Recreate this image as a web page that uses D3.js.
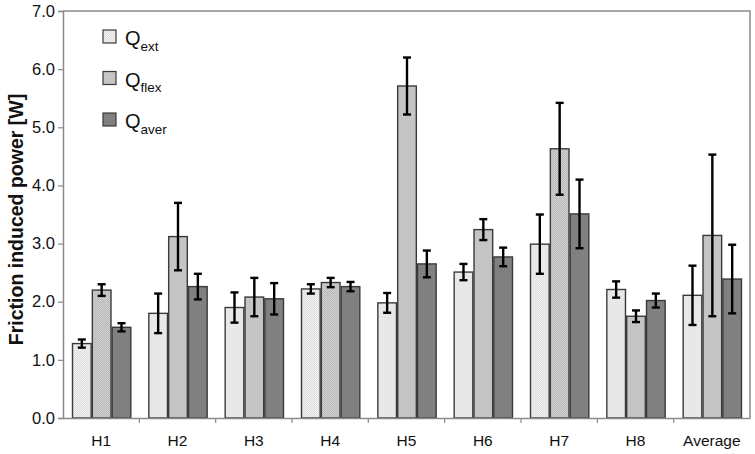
<!DOCTYPE html>
<html>
  <head>
    <meta charset="utf-8" />
    <title>Friction induced power</title>
    <style>
      body {
        margin: 0;
        background: #fff;
      }
      svg {
        display: block;
        font-family: "Liberation Sans", Arial, sans-serif;
      }
    </style>
  </head>
  <body>
    <svg id="chart"></svg>
    <script src="https://cdn.jsdelivr.net/npm/d3@7"></script>
    <script>
      const categories = ["H1", "H2", "H3", "H4", "H5", "H6", "H7", "H8", "Average"];
      const seriesKeys = ["ext", "flex", "aver"];
      const qExt = [1.28, 1.80, 1.90, 2.22, 1.98, 2.51, 2.99, 2.21, 2.11];
      const qExtErr = [0.07, 0.34, 0.26, 0.08, 0.17, 0.14, 0.51, 0.14, 0.51];
      const qFlex = [2.20, 3.12, 2.08, 2.33, 5.71, 3.24, 4.63, 1.75, 3.14];
      const qFlexErr = [0.10, 0.58, 0.33, 0.08, 0.49, 0.18, 0.79, 0.10, 1.39];
      const qAver = [1.56, 2.26, 2.05, 2.26, 2.65, 2.77, 3.51, 2.02, 2.39];
      const qAverErr = [0.07, 0.22, 0.27, 0.08, 0.23, 0.16, 0.59, 0.12, 0.59];
      const yTicks = [0, 1, 2, 3, 4, 5, 6, 7];

      const width = 755;
      const height = 454;
      const margin = { top: 11, right: 5, bottom: 36, left: 63 };
      const font = "Liberation Sans, Arial, sans-serif";

      const svg = d3.select("#chart").attr("width", width).attr("height", height);

      // checker patterns for the bar fills
      const defs = svg.append("defs");
      function checker(id, a, b) {
        const p = defs
          .append("pattern")
          .attr("id", id)
          .attr("width", 2)
          .attr("height", 2)
          .attr("patternUnits", "userSpaceOnUse");
        p.append("rect").attr("width", 2).attr("height", 2).attr("fill", a);
        p.append("rect").attr("width", 1).attr("height", 1).attr("fill", b);
        p.append("rect").attr("x", 1).attr("y", 1).attr("width", 1).attr("height", 1).attr("fill", b);
      }
      checker("pExt", "#f0f0f0", "#e0e0e0");
      checker("pFlex", "#cfcfcf", "#bababa");
      checker("pAver", "#858585", "#7b7b7b");
      const fills = { ext: "url(#pExt)", flex: "url(#pFlex)", aver: "url(#pAver)" };
      const subs = { ext: "ext", flex: "flex", aver: "aver" };

      const rows = categories.map((c, i) => ({
        cat: c,
        ext: { v: qExt[i], e: qExtErr[i] },
        flex: { v: qFlex[i], e: qFlexErr[i] },
        aver: { v: qAver[i], e: qAverErr[i] },
      }));

      const x = d3
        .scaleBand()
        .domain(categories)
        .range([margin.left, width - margin.right])
        .paddingInner(0)
        .paddingOuter(0);

      const xi = d3
        .scaleBand()
        .domain(seriesKeys)
        .range([9.5, x.bandwidth() - 8.5])
        .paddingInner(0.06);

      const y = d3
        .scaleLinear()
        .domain([0, 7])
        .range([height - margin.bottom, margin.top]);

      // frame (top and right)
      svg
        .append("path")
        .attr("d", `M${margin.left},${y(7)}H${width - margin.right}V${y(0)}`)
        .attr("fill", "none")
        .attr("stroke", "#8a8a8a")
        .attr("stroke-width", 1.5);

      // bars
      const groups = svg
        .append("g")
        .selectAll("g")
        .data(rows)
        .join("g")
        .attr("transform", (d) => `translate(${x(d.cat)},0)`);

      groups
        .selectAll("rect")
        .data((d) => seriesKeys.map((k) => ({ k, v: d[k].v, e: d[k].e })))
        .join("rect")
        .attr("x", (d) => xi(d.k))
        .attr("y", (d) => y(d.v))
        .attr("width", xi.bandwidth())
        .attr("height", (d) => y(0) - y(d.v))
        .attr("fill", (d) => fills[d.k])
        .attr("stroke", "#3a3a3a")
        .attr("stroke-width", 1.4);

      // error bars
      const err = groups
        .selectAll("g.err")
        .data((d) => seriesKeys.map((k) => ({ k, v: d[k].v, e: d[k].e })))
        .join("g")
        .attr("class", "err")
        .attr("stroke", "#000")
        .attr("stroke-width", 2.4);
      const cx = (d) => xi(d.k) + xi.bandwidth() / 2;
      err
        .append("line")
        .attr("x1", cx)
        .attr("x2", cx)
        .attr("y1", (d) => y(d.v + d.e))
        .attr("y2", (d) => y(d.v - d.e));
      err
        .append("line")
        .attr("x1", (d) => cx(d) - 4)
        .attr("x2", (d) => cx(d) + 4)
        .attr("y1", (d) => y(d.v + d.e))
        .attr("y2", (d) => y(d.v + d.e));
      err
        .append("line")
        .attr("x1", (d) => cx(d) - 4)
        .attr("x2", (d) => cx(d) + 4)
        .attr("y1", (d) => y(d.v - d.e))
        .attr("y2", (d) => y(d.v - d.e));

      // y axis
      const yAxis = svg
        .append("g")
        .attr("transform", `translate(${margin.left},0)`)
        .call(
          d3
            .axisLeft(y)
            .tickValues(yTicks)
            .tickFormat(d3.format(".1f"))
            .tickSize(5)
            .tickPadding(3)
        );
      yAxis.attr("font-family", font);
      yAxis.select(".domain").attr("stroke", "#8a8a8a").attr("stroke-width", 1.5);
      yAxis.selectAll(".tick line").attr("stroke", "#8a8a8a").attr("stroke-width", 1.2);
      yAxis.selectAll(".tick text").attr("font-size", 16.5).attr("fill", "#111");

      // x axis
      const xAxis = svg
        .append("g")
        .attr("transform", `translate(0,${y(0)})`)
        .call(d3.axisBottom(x).tickSize(0).tickPadding(17));
      xAxis.attr("font-family", font);
      xAxis.select(".domain").attr("stroke", "#8a8a8a").attr("stroke-width", 1.5);
      xAxis.selectAll(".tick text").attr("font-size", 15.5).attr("fill", "#111");
      // tick marks between categories
      svg
        .append("g")
        .selectAll("line")
        .data(categories.slice(1))
        .join("line")
        .attr("x1", (d) => x(d))
        .attr("x2", (d) => x(d))
        .attr("y1", y(0))
        .attr("y2", y(0) + 5)
        .attr("stroke", "#8a8a8a")
        .attr("stroke-width", 1.2);

      // y title
      svg
        .append("text")
        .attr("transform", `translate(23,${(y(0) + y(7)) / 2 + 5}) rotate(-90)`)
        .attr("text-anchor", "middle")
        .attr("font-size", 19.5)
        .attr("font-weight", "bold")
        .attr("fill", "#111")
        .text("Friction induced power [W]");

      // legend
      const legend = svg
        .append("g")
        .selectAll("g")
        .data(seriesKeys)
        .join("g")
        .attr("transform", (d, i) => `translate(103,${30 + i * 41.5})`);
      legend
        .append("rect")
        .attr("width", 13)
        .attr("height", 13)
        .attr("fill", (d) => fills[d])
        .attr("stroke", "#3a3a3a")
        .attr("stroke-width", 1.2);
      const lt = legend
        .append("text")
        .attr("x", 22)
        .attr("y", 15)
        .attr("fill", "#111");
      lt.append("tspan").attr("font-size", 20).text("Q");
      lt.append("tspan")
        .attr("font-size", 13.5)
        .attr("dy", 5.5)
        .text((d) => subs[d]);
    </script>
  </body>
</html>
